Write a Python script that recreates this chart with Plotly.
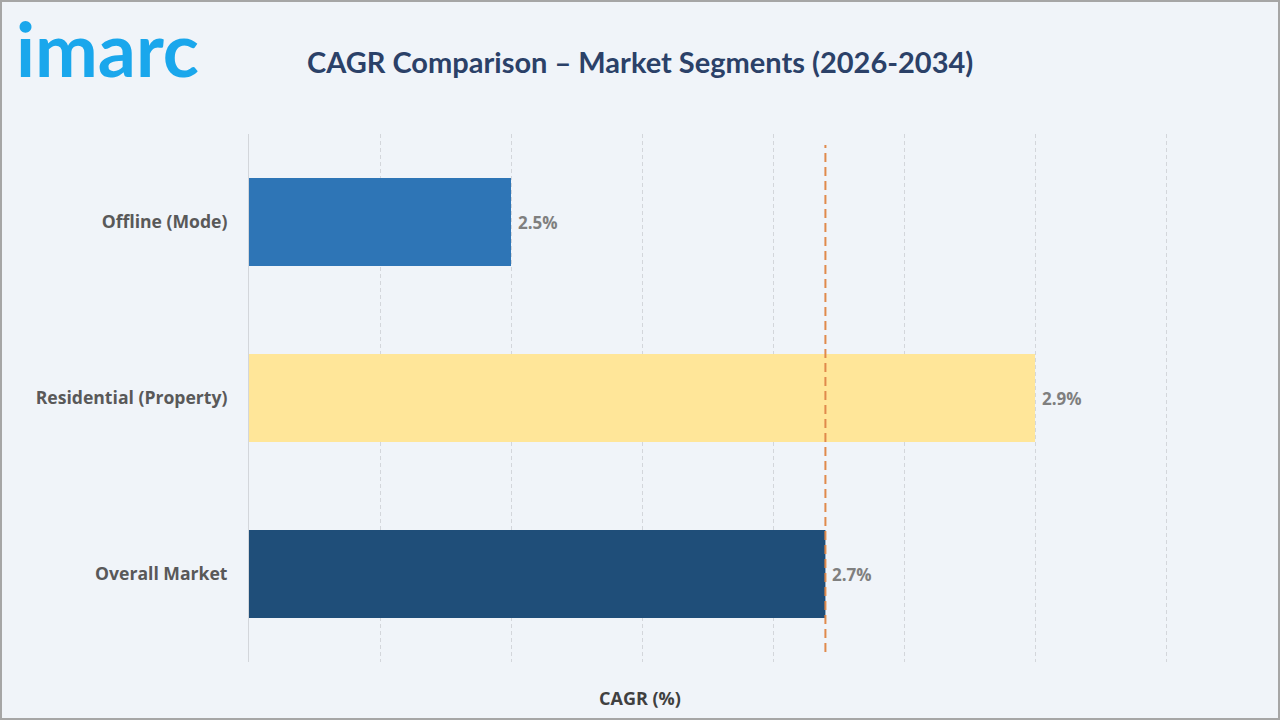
import plotly.graph_objects as go

categories = ["Offline (Mode)", "Residential (Property)", "Overall Market"]
cagr_values = [2.5, 2.9, 2.74]
bar_colors = ["#2E75B6", "#FFE699", "#1F4E79"]
overall_reference = 2.74

title_text = "CAGR Comparison – Market Segments (2026-2034)"
x_title = "CAGR (%)"

W, H = 1280, 720
L, R, T, B = 249, 112, 134, 58
pw = W - L - R
ph = H - T - B


def px_x(p):
    return (p - L) / pw


def px_y(p):
    return (H - B - p) / ph


fig = go.Figure()
fig.add_trace(go.Bar(
    x=cagr_values, y=categories, orientation="h",
    marker=dict(color=bar_colors, line=dict(width=0)),
    width=0.5, hoverinfo="skip", showlegend=False,
))

for v, c in zip(cagr_values, categories):
    fig.add_annotation(x=v, y=c, xref="x", yref="y", text=f"<b>{v:.1f}%</b>",
                       showarrow=False, xanchor="left", xshift=5,
                       font=dict(family="Open Sans", size=17, color="#7F7F7F"))

fig.add_shape(type="line", xref="x", yref="paper", x0=overall_reference, x1=overall_reference,
              y0=px_y(652), y1=px_y(145),
              line=dict(color="#E08A4C", width=2, dash="9px,5px"))

# outer frame
fig.add_shape(type="rect", xref="paper", yref="paper",
              x0=px_x(1), x1=px_x(1279), y0=px_y(719), y1=px_y(1),
              line=dict(color="#A6A6A6", width=2), fillcolor="rgba(0,0,0,0)", layer="above")

fig.add_annotation(xref="paper", yref="paper", x=px_x(640), y=px_y(61), text=f"<b>{title_text}</b>",
                   showarrow=False, xanchor="center", yanchor="middle",
                   font=dict(family="Lato", size=29, color="#2B4168"))
fig.add_annotation(xref="paper", yref="paper", x=px_x(640), y=px_y(698), text=f"<b>{x_title}</b>",
                   showarrow=False, xanchor="center", yanchor="middle",
                   font=dict(family="Open Sans", size=18, color="#404040"))
fig.add_annotation(xref="paper", yref="paper", x=px_x(14), y=px_y(48), text="<b>imarc</b>",
                   showarrow=False, xanchor="left", yanchor="middle",
                   font=dict(family="Lato", size=75, color="#1AA7EC"))

fig.update_layout(
    width=W, height=H,
    margin=dict(l=L, r=R, t=T, b=B, pad=0),
    paper_bgcolor="#F0F4F9", plot_bgcolor="#F0F4F9",
    bargap=0.5,
    xaxis=dict(range=[2.3, 3.0015], dtick=0.1, tick0=2.3, showticklabels=False,
               showgrid=True, gridcolor="#D3D6DB", griddash="4px,3px", gridwidth=1,
               zeroline=False, showline=False, fixedrange=True),
    yaxis=dict(categoryorder="array", categoryarray=categories[::-1],
               showline=True, linecolor="#D3D6DB", linewidth=1,
               showgrid=False, zeroline=False, ticks="", ticklen=0,
               ticklabelstandoff=17,
               tickfont=dict(family="Open Sans", size=17.6, color="#595959")),
    font=dict(family="Open Sans"),
)
fig.update_yaxes(tickvals=categories, ticktext=[f"<b>{c}</b>" for c in categories])

fig.write_html("out.html", config={"displayModeBar": False},
               post_script="document.body.style.margin='0px';document.body.style.overflow='hidden';")
